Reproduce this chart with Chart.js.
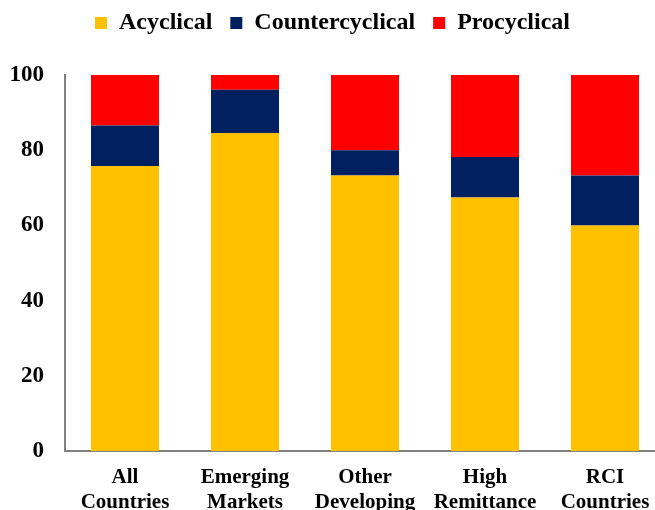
<!DOCTYPE html>
<html lang="en">
<head>
    <meta charset="UTF-8">
    <title>Cyclicality of remittances</title>
    <style>
        html, body {
            margin: 0;
            padding: 0;
            overflow: hidden;
            background: #fff;
        }
        .chart-box {
            width: 670px;
            height: 510px;
        }
    </style>
</head>
<body>
    <div class="chart-box">
        <canvas id="mychart"></canvas>
    </div>

    <script src="https://cdn.jsdelivr.net/npm/chart.js@4.4.1/dist/chart.umd.min.js"></script>
    <script>
        // 데이터
        const groups = [
            ['All', 'Countries'],
            ['Emerging', 'Markets'],
            ['Other', 'Developing'],
            ['High', 'Remittance'],
            ['RCI', 'Countries'],
        ];
        const acyclical = [75.8, 84.6, 73.3, 67.4, 60.0];
        const countercyclical = [10.8, 11.5, 6.7, 10.8, 13.3];
        const procyclical = [13.4, 3.9, 20.0, 21.8, 26.7];
        const yTicks = [0, 20, 40, 60, 80, 100];

        const font = 'Liberation Serif, Times New Roman, serif';

        // 범례 아래 여백
        const legendGap = {
            id: 'legendGap',
            beforeInit(chart) {
                const fitOrig = chart.legend.fit;
                chart.legend.fit = function () {
                    fitOrig.bind(chart.legend)();
                    this.height += 30;
                };
            },
        };

        new Chart(document.getElementById('mychart'), {
            type: 'bar',
            data: {
                labels: groups,
                datasets: [
                    { label: 'Acyclical', data: acyclical, backgroundColor: '#FFC000' },
                    { label: 'Countercyclical', data: countercyclical, backgroundColor: '#002060' },
                    { label: 'Procyclical', data: procyclical, backgroundColor: '#FF0000' },
                ],
            },
            plugins: [legendGap],
            options: {
                responsive: true,
                maintainAspectRatio: false,
                animation: false,
                layout: { padding: { top: -7, left: 0, right: 5, bottom: 0 } },
                datasets: {
                    bar: { categoryPercentage: 1, barPercentage: 0.567 },
                },
                plugins: {
                    tooltip: { enabled: false },
                    legend: {
                        position: 'top',
                        labels: {
                            boxWidth: 12,
                            boxHeight: 12,
                            padding: 18,
                            color: '#000',
                            font: { family: font, size: 24, weight: 'bold' },
                        },
                    },
                },
                scales: {
                    x: {
                        stacked: true,
                        grid: { display: false, drawTicks: false },
                        border: { color: '#808080', width: 2 },
                        ticks: {
                            color: '#000',
                            padding: 14,
                            maxRotation: 0,
                            autoSkip: false,
                            font: { family: font, size: 21, weight: 'bold', lineHeight: 1.2 },
                        },
                        afterFit(scale) { scale.height = 59; },
                    },
                    y: {
                        stacked: true,
                        min: 0,
                        max: 100,
                        afterBuildTicks(scale) { scale.ticks = yTicks.map(v => ({ value: v })); },
                        grid: { display: false, drawTicks: false },
                        border: { color: '#808080', width: 2 },
                        ticks: {
                            color: '#000',
                            padding: 21,
                            font: { family: font, size: 23, weight: 'bold' },
                        },
                        afterFit(scale) { scale.width = 65; },
                    },
                },
            },
        });
    </script>
</body>
</html>
